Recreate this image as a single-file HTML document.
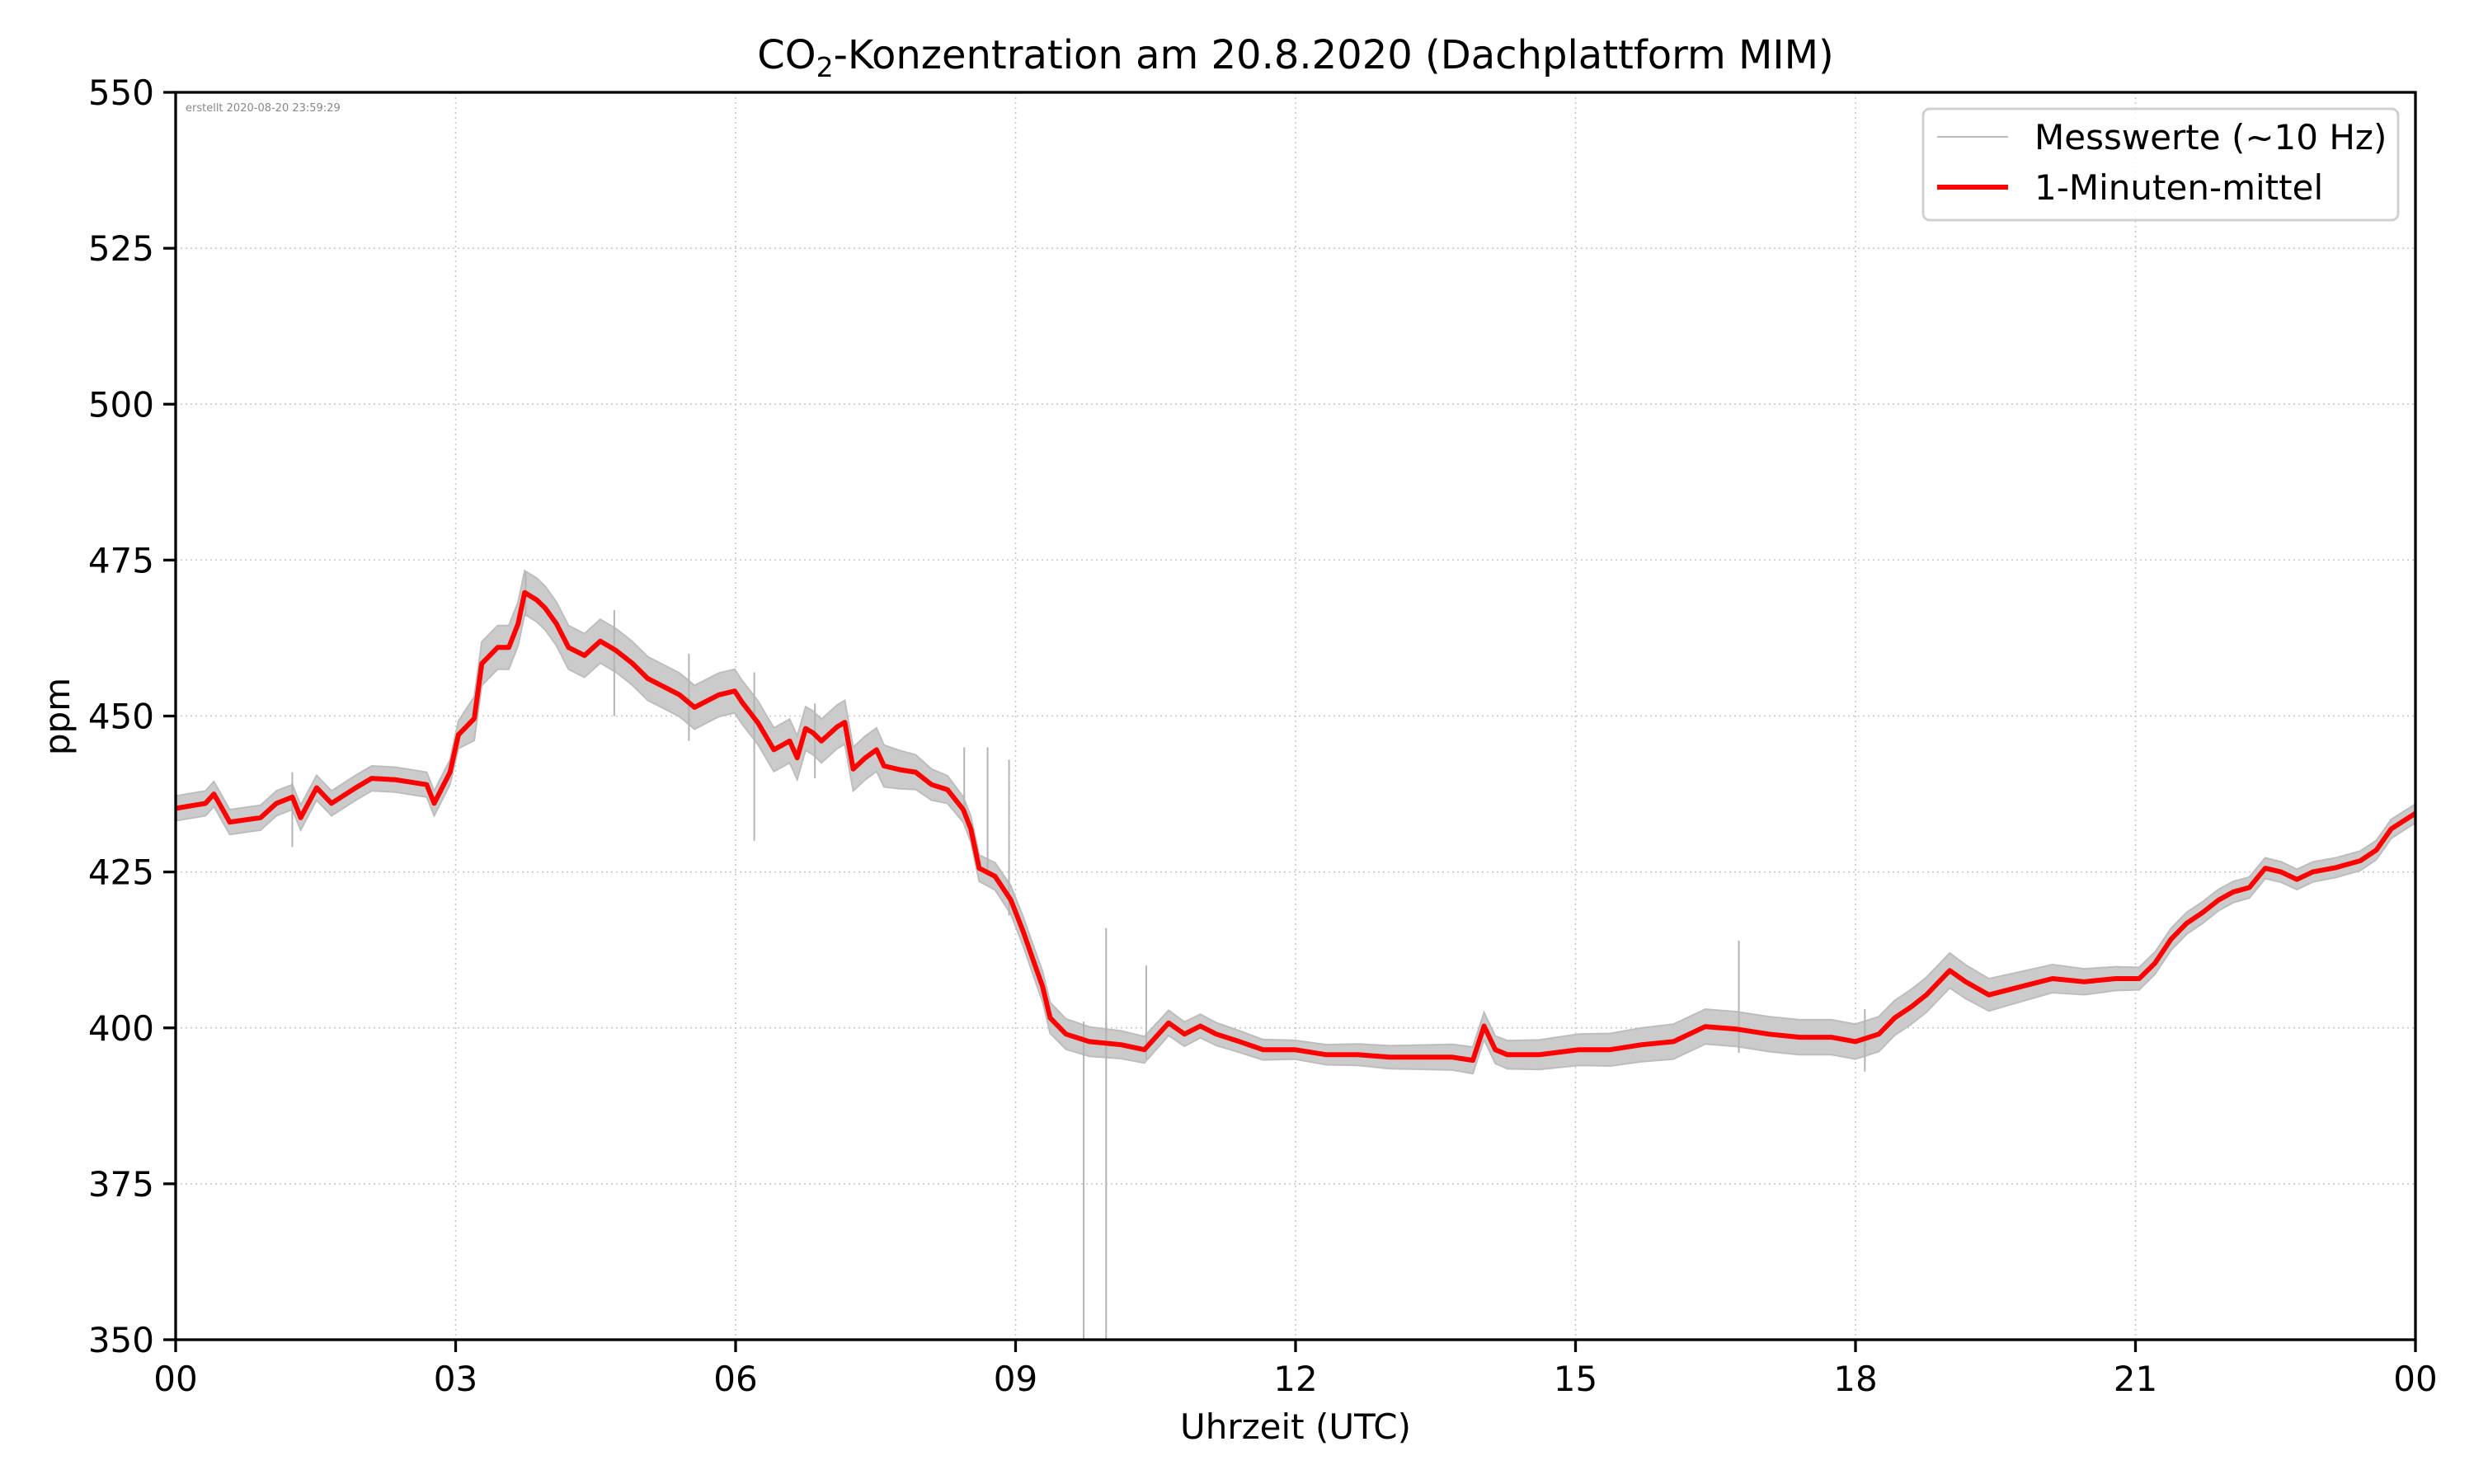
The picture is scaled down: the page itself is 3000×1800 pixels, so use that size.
<!DOCTYPE html>
<html><head><meta charset="utf-8"><style>
html,body{margin:0;padding:0;background:#fff}
svg{display:block;font-family:"DejaVu Sans","Liberation Sans",sans-serif}
</style></head><body>
<svg id="chart" width="3000" height="1800" viewBox="0 0 3000 1800" xmlns="http://www.w3.org/2000/svg">
<rect width="3000" height="1800" fill="#fff"/>
<g id="grid"></g>
<g id="series"></g>
<rect x="213" y="112" width="2716" height="1513" fill="none" stroke="#000" stroke-width="3.3"/>
<g id="ticks"></g>
<text x="1571" y="83" font-size="48" text-anchor="middle">CO<tspan font-size="33" dy="10">2</tspan><tspan dy="-10">-Konzentration am 20.8.2020 (Dachplattform MIM)</tspan></text>
<text x="1571" y="1745" font-size="42" text-anchor="middle">Uhrzeit (UTC)</text>
<text x="0" y="0" font-size="42" text-anchor="middle" transform="translate(84,869) rotate(-90)">ppm</text>
<text x="225" y="135" font-size="13" fill="#888">erstellt 2020-08-20 23:59:29</text>
<g>
<rect x="2332" y="132" width="576" height="135" rx="8" fill="#fff" fill-opacity="0.8" stroke="#d0d0d0" stroke-width="3"/>
<line x1="2349" y1="166" x2="2435" y2="166" stroke="#bbb" stroke-width="2"/>
<text x="2467" y="181" font-size="42">Messwerte (~10 Hz)</text>
<line x1="2349" y1="227" x2="2435" y2="227" stroke="#f00" stroke-width="6"/>
<text x="2467" y="242" font-size="42">1-Minuten-mittel</text>
</g>
</svg>
<script>
const hours=[0,0.32,0.41,0.58,0.91,1.08,1.25,1.34,1.51,1.67,1.93,2.10,2.35,2.69,2.77,2.94,3.03,3.20,3.28,3.45,3.57,3.67,3.74,3.87,3.96,4.08,4.21,4.38,4.55,4.72,4.89,5.06,5.23,5.40,5.56,5.82,5.99,6.07,6.24,6.41,6.58,6.66,6.75,6.83,6.92,7.09,7.17,7.26,7.39,7.51,7.59,7.76,7.93,8.10,8.27,8.44,8.52,8.61,8.78,8.95,9.08,9.20,9.29,9.37,9.54,9.79,10.13,10.38,10.64,10.81,10.98,11.15,11.40,11.65,11.99,12.33,12.67,13.01,13.34,13.68,13.90,14.02,14.14,14.27,14.61,15.04,15.37,15.71,16.05,16.39,16.73,17.07,17.40,17.74,18.00,18.25,18.42,18.59,18.76,19.01,19.18,19.43,19.77,20.11,20.45,20.79,21.04,21.21,21.38,21.55,21.72,21.89,22.05,22.22,22.39,22.56,22.73,22.90,23.15,23.41,23.58,23.74,24];
const meanPpm=[435.2,436,437.5,433,433.7,436,437,433.7,438.5,436,438.5,440,439.8,439,436,441,447,449.6,458.4,461,461,464.8,469.8,468.6,467.3,464.8,461,459.7,462,460.5,458.5,456,454.7,453.4,451.4,453.4,454,452.2,448.9,444.6,446,443.3,448,447.3,446,448.3,449,441.5,443.3,444.6,442,441.4,441,439,438.2,435,431.9,425.6,424.3,420.5,415.5,410.4,406.6,401.6,399,397.8,397.3,396.5,400.8,399,400.3,399,397.8,396.5,396.5,395.7,395.7,395.3,395.3,395.3,394.8,400.3,396.5,395.7,395.7,396.5,396.5,397.3,397.8,400.2,399.8,399,398.5,398.5,397.8,399,401.6,403.3,405.3,409.2,407.4,405.3,406.6,407.9,407.4,407.9,407.9,410.4,414.2,416.8,418.5,420.5,421.8,422.5,425.6,425,423.8,425,425.7,426.8,428.5,431.9,434.4];
const noiseHours=[0,3,3.2,7.5,8.4,9.4,12,15,16,19,21,24];
const noiseAmp=[2,2,3.5,3.5,2,2.5,1.5,2.5,2.8,2.8,1.8,1.5];
const spikeHours=[1.25,3.75,4.7,5.5,6.2,6.85,8.45,8.7,8.93,9.73,9.97,9.97,10.4,16.75,18.1];
const spikeLow=[429,466,450,446,430,440,435,425,418,350,350,396,395,396,393];
const spikeHigh=[441,473,467,460,457,452,445,445,443,401,401,416,410,414,403];
const yTicks=[350,375,400,425,450,475,500,525,550];
const xTickHours=[0,3,6,9,12,15,18,21,24];
const xTickLabels=["00","03","06","09","12","15","18","21","00"];

const L=213,R=2929,T=112,B=1625;
const xs=h=>L+(h/24)*(R-L);
const ys=v=>B-(v-350)/200*(B-T);
const NS="http://www.w3.org/2000/svg";
function mk(tag,attrs,parent){const e=document.createElementNS(NS,tag);for(const k in attrs)e.setAttribute(k,attrs[k]);parent.appendChild(e);return e;}
const grid=document.getElementById('grid'),ticks=document.getElementById('ticks'),series=document.getElementById('series');
function ampAt(h){for(let i=0;i<noiseHours.length-1;i++){if(h<=noiseHours[i+1]){const t=(h-noiseHours[i])/(noiseHours[i+1]-noiseHours[i]);return noiseAmp[i]+t*(noiseAmp[i+1]-noiseAmp[i]);}}return noiseAmp[noiseAmp.length-1];}
yTicks.forEach(v=>{
  const g=mk('line',{x1:L,x2:R,y1:ys(v),y2:ys(v),stroke:'#c8c8c8','stroke-width':1.6,'stroke-dasharray':'2,4'},grid);
  
  
  const t=mk('line',{x1:L-15,x2:L,y1:ys(v),y2:ys(v),stroke:'#000','stroke-width':3.3},ticks);
  
  
  const lb=mk('text',{x:L-26,y:ys(v)+15,'font-size':42,'text-anchor':'end'},ticks);
  lb.textContent=v;
  
  
});
xTickHours.forEach((h,i)=>{
  const g=mk('line',{x1:xs(h),x2:xs(h),y1:T,y2:B,stroke:'#c8c8c8','stroke-width':1.6,'stroke-dasharray':'2,4'},grid);
  
  
  const t=mk('line',{x1:xs(h),x2:xs(h),y1:B,y2:B+15,stroke:'#000','stroke-width':3.3},ticks);
  
  
  const lb=mk('text',{x:xs(h),y:B+62,'font-size':42,'text-anchor':'middle'},ticks);
  lb.textContent=xTickLabels[i];
  
  
});
let up='',dn='';
hours.forEach((h,i)=>{up+=(i?'L':'M')+xs(h).toFixed(1)+','+ys(meanPpm[i]+ampAt(h)).toFixed(1);});
for(let i=hours.length-1;i>=0;i--){dn+='L'+xs(hours[i]).toFixed(1)+','+ys(meanPpm[i]-ampAt(hours[i])).toFixed(1);}
const band=mk('path',{d:up+dn+'Z',fill:'#cbcbcb',stroke:'#bdbdbd','stroke-width':2},series);


spikeHours.forEach((h,i)=>{
  const s=mk('line',{x1:xs(h),x2:xs(h),y1:ys(spikeLow[i]),y2:ys(spikeHigh[i]),stroke:'#b4b4b4','stroke-width':2},series);
  
  
});
let d='';
hours.forEach((h,i)=>{d+=(i?'L':'M')+xs(h).toFixed(1)+','+ys(meanPpm[i]).toFixed(1);});
const red=mk('path',{d:d,fill:'none',stroke:'#f00','stroke-width':6,'stroke-linejoin':'round'},series);


</script>
</body></html>
